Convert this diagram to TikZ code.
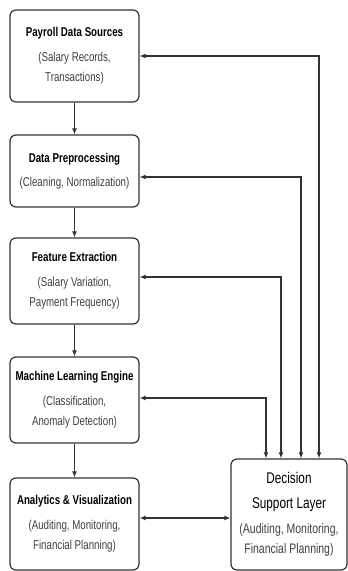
\documentclass[tikz,border=0pt]{standalone}
\usepackage{fontspec}
\setmainfont{Liberation Sans}[FakeStretch=0.76]
\usetikzlibrary{arrows.meta}

\definecolor{edgegray}{HTML}{333333}
\definecolor{notegray}{HTML}{404040}

\tikzset{
  stage/.style={draw=edgegray, line width=1.2pt, rounded corners=6pt, fill=white,
    minimum width=129pt, align=center, text=notegray, inner sep=2pt,
    font=\fontsize{12.8}{20.5}\selectfont},
  flow/.style={draw=edgegray, line width=1.1pt, -{Latex[length=6pt,width=5pt]}},
  twoway/.style={draw=edgegray, line width=1.1pt,
    {Latex[length=6pt,width=5pt]}-{Latex[length=6pt,width=5pt]}},
}
\newcommand{\stagetitle}[1]{{\color{black}\fontsize{12.8}{15}\selectfont\bfseries #1}}
\newcommand{\layertitle}[1]{{\color{black}\fontsize{15.5}{18}\selectfont #1}}

\begin{document}
\begin{tikzpicture}[x=1pt,y=-1pt]
\useasboundingbox (0,0) rectangle (348,571);

% pipeline on the left
\node[stage, minimum height=92pt] (src) at (74.5,56)
  {\stagetitle{Payroll Data Sources}\\[4pt](Salary Records,\\Transactions)};
\node[stage, minimum height=72pt] (prep) at (74.5,171)
  {\stagetitle{Data Preprocessing}\\[4pt](Cleaning, Normalization)};
\node[stage, minimum height=86pt] (feat) at (74.5,281)
  {\stagetitle{Feature Extraction}\\[4pt](Salary Variation,\\Payment Frequency)};
\node[stage, minimum height=86pt] (mle) at (74.5,400)
  {\stagetitle{Machine Learning Engine}\\[4pt](Classification,\\Anomaly Detection)};
\node[stage, minimum height=92pt] (viz) at (74.5,524)
  {\stagetitle{Analytics \& Visualization}\\[4pt](Auditing, Monitoring,\\Financial Planning)};

% decision layer
\node[stage, minimum width=116pt, minimum height=111pt, font=\fontsize{13.8}{20.5}\selectfont]
  (dsl) at (289,514.5)
  {\layertitle{Decision}\\[4.5pt]\layertitle{Support Layer}\\[4.5pt](Auditing, Monitoring,\\Financial Planning)};

\draw[flow] (src) -- (prep);
\draw[flow] (prep) -- (feat);
\draw[flow] (feat) -- (mle);
\draw[flow] (mle) -- (viz);

% feedback to each stage
\draw[twoway] ([xshift=30pt]dsl.north) |- (src.east);
\draw[twoway] ([xshift=12pt]dsl.north) |- ([yshift=-6pt]prep.east);
\draw[twoway] ([xshift=-8pt]dsl.north) |- ([yshift=4pt]feat.east);
\draw[twoway] ([xshift=-23pt]dsl.north) |- ([yshift=2pt]mle.east);
\draw[twoway] ([yshift=6pt]viz.east) -- ([yshift=6pt]viz.east -| dsl.west);
\end{tikzpicture}
\end{document}
